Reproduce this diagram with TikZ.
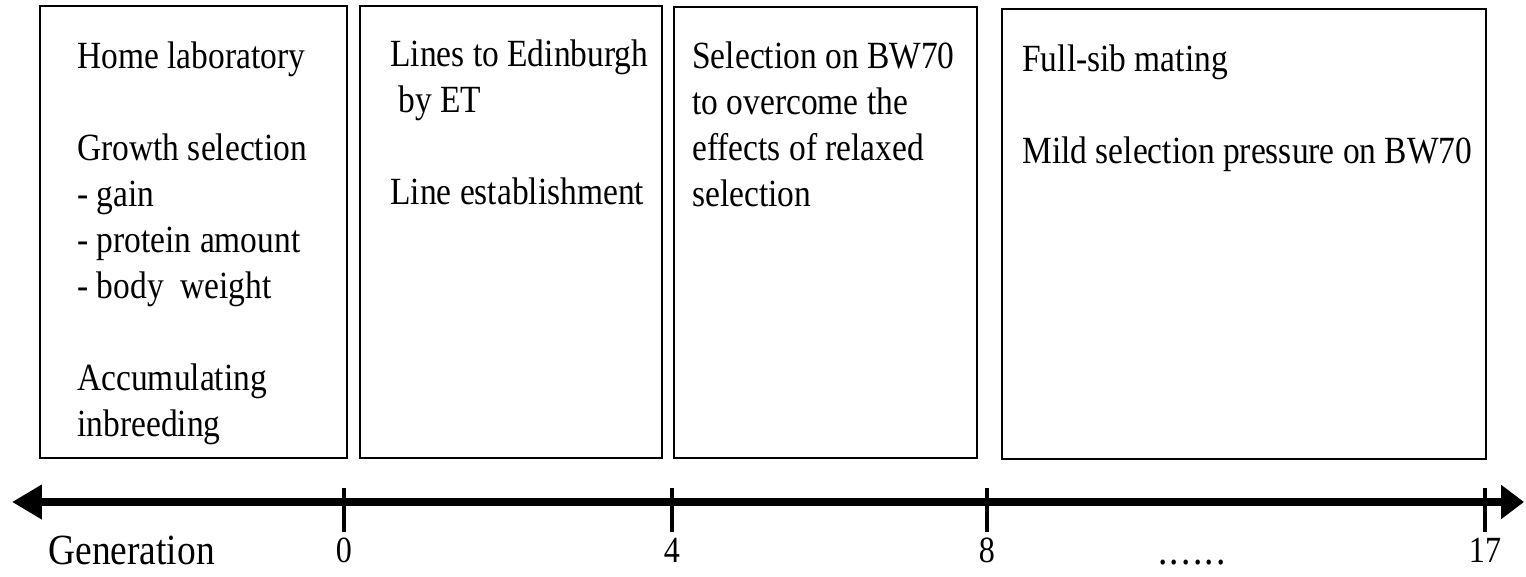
\documentclass[tikz,border=0pt]{standalone}
\usepackage{fontspec}
\setmainfont[FakeStretch=0.87]{Liberation Serif}
\usetikzlibrary{arrows.meta}
\tikzset{
  stage/.style={draw, line width=1.2pt, inner sep=0pt, anchor=north west},
  stagetext/.style={anchor=north west, align=left, inner sep=0pt,
    font=\fontsize{21.9}{26.2}\selectfont},
  timeline/.style={line width=4.5pt,
    {Triangle[length=6mm,width=6.6mm]}-{Triangle[length=4.6mm,width=6.6mm]}},
  gentick/.style={line width=2.8pt},
  ticklabel/.style={anchor=base, inner sep=0pt, font=\fontsize{21}{25}\selectfont},
  axislabel/.style={anchor=base west, inner sep=0pt, font=\fontsize{24.5}{29}\selectfont}
}
\begin{document}
\begin{tikzpicture}[x=.02cm,y=.02cm]
\useasboundingbox (0,0) rectangle (1526,577);
% stages
\node[stage, minimum width=6.14cm, minimum height=9.04cm] (home) at (39,572) {};
\node[stage, minimum width=6.04cm, minimum height=9.04cm] (edin) at (359,572) {};
\node[stage, minimum width=6.06cm, minimum height=9.02cm] (relax) at (673,571) {};
\node[stage, minimum width=9.68cm, minimum height=9.0cm] (fullsib) at (1001,569) {};
\node[stagetext] (hometext) at (77,536)
  {Home laboratory\\[\baselineskip]Growth selection\\- gain\\- protein amount\\- body\ \ weight\\[\baselineskip]Accumulating\\inbreeding};
\node[stagetext] (edintext) at (390,538)
  {Lines to Edinburgh\\\ by ET\\[\baselineskip]Line establishment};
\node[stagetext] (relaxtext) at (692,536)
  {Selection on BW70\\to overcome the\\effects of relaxed\\selection};
\node[stagetext] (fullsibtext) at (1022,533)
  {Full-sib mating\\[\baselineskip]Mild selection pressure on BW70};
% time axis
\coordinate (past) at (12,75);
\coordinate (future) at (1524,75);
\draw[timeline] (past) -- (future);
\foreach \x/\g in {344/0, 672/4, 987/8, 1485/17} {
  \draw[gentick] (\x,89) -- (\x,45);
  \node[ticklabel] (gen\g) at (\x,14) {\g};
}
\node[axislabel] (generation) at (48,12) {Generation};
\node[axislabel, anchor=base] (dots) at (1192,12)
  {.\kern1.3pt.\kern1.3pt.\kern1.3pt.\kern1.3pt.\kern1.3pt.};
\end{tikzpicture}
\end{document}
